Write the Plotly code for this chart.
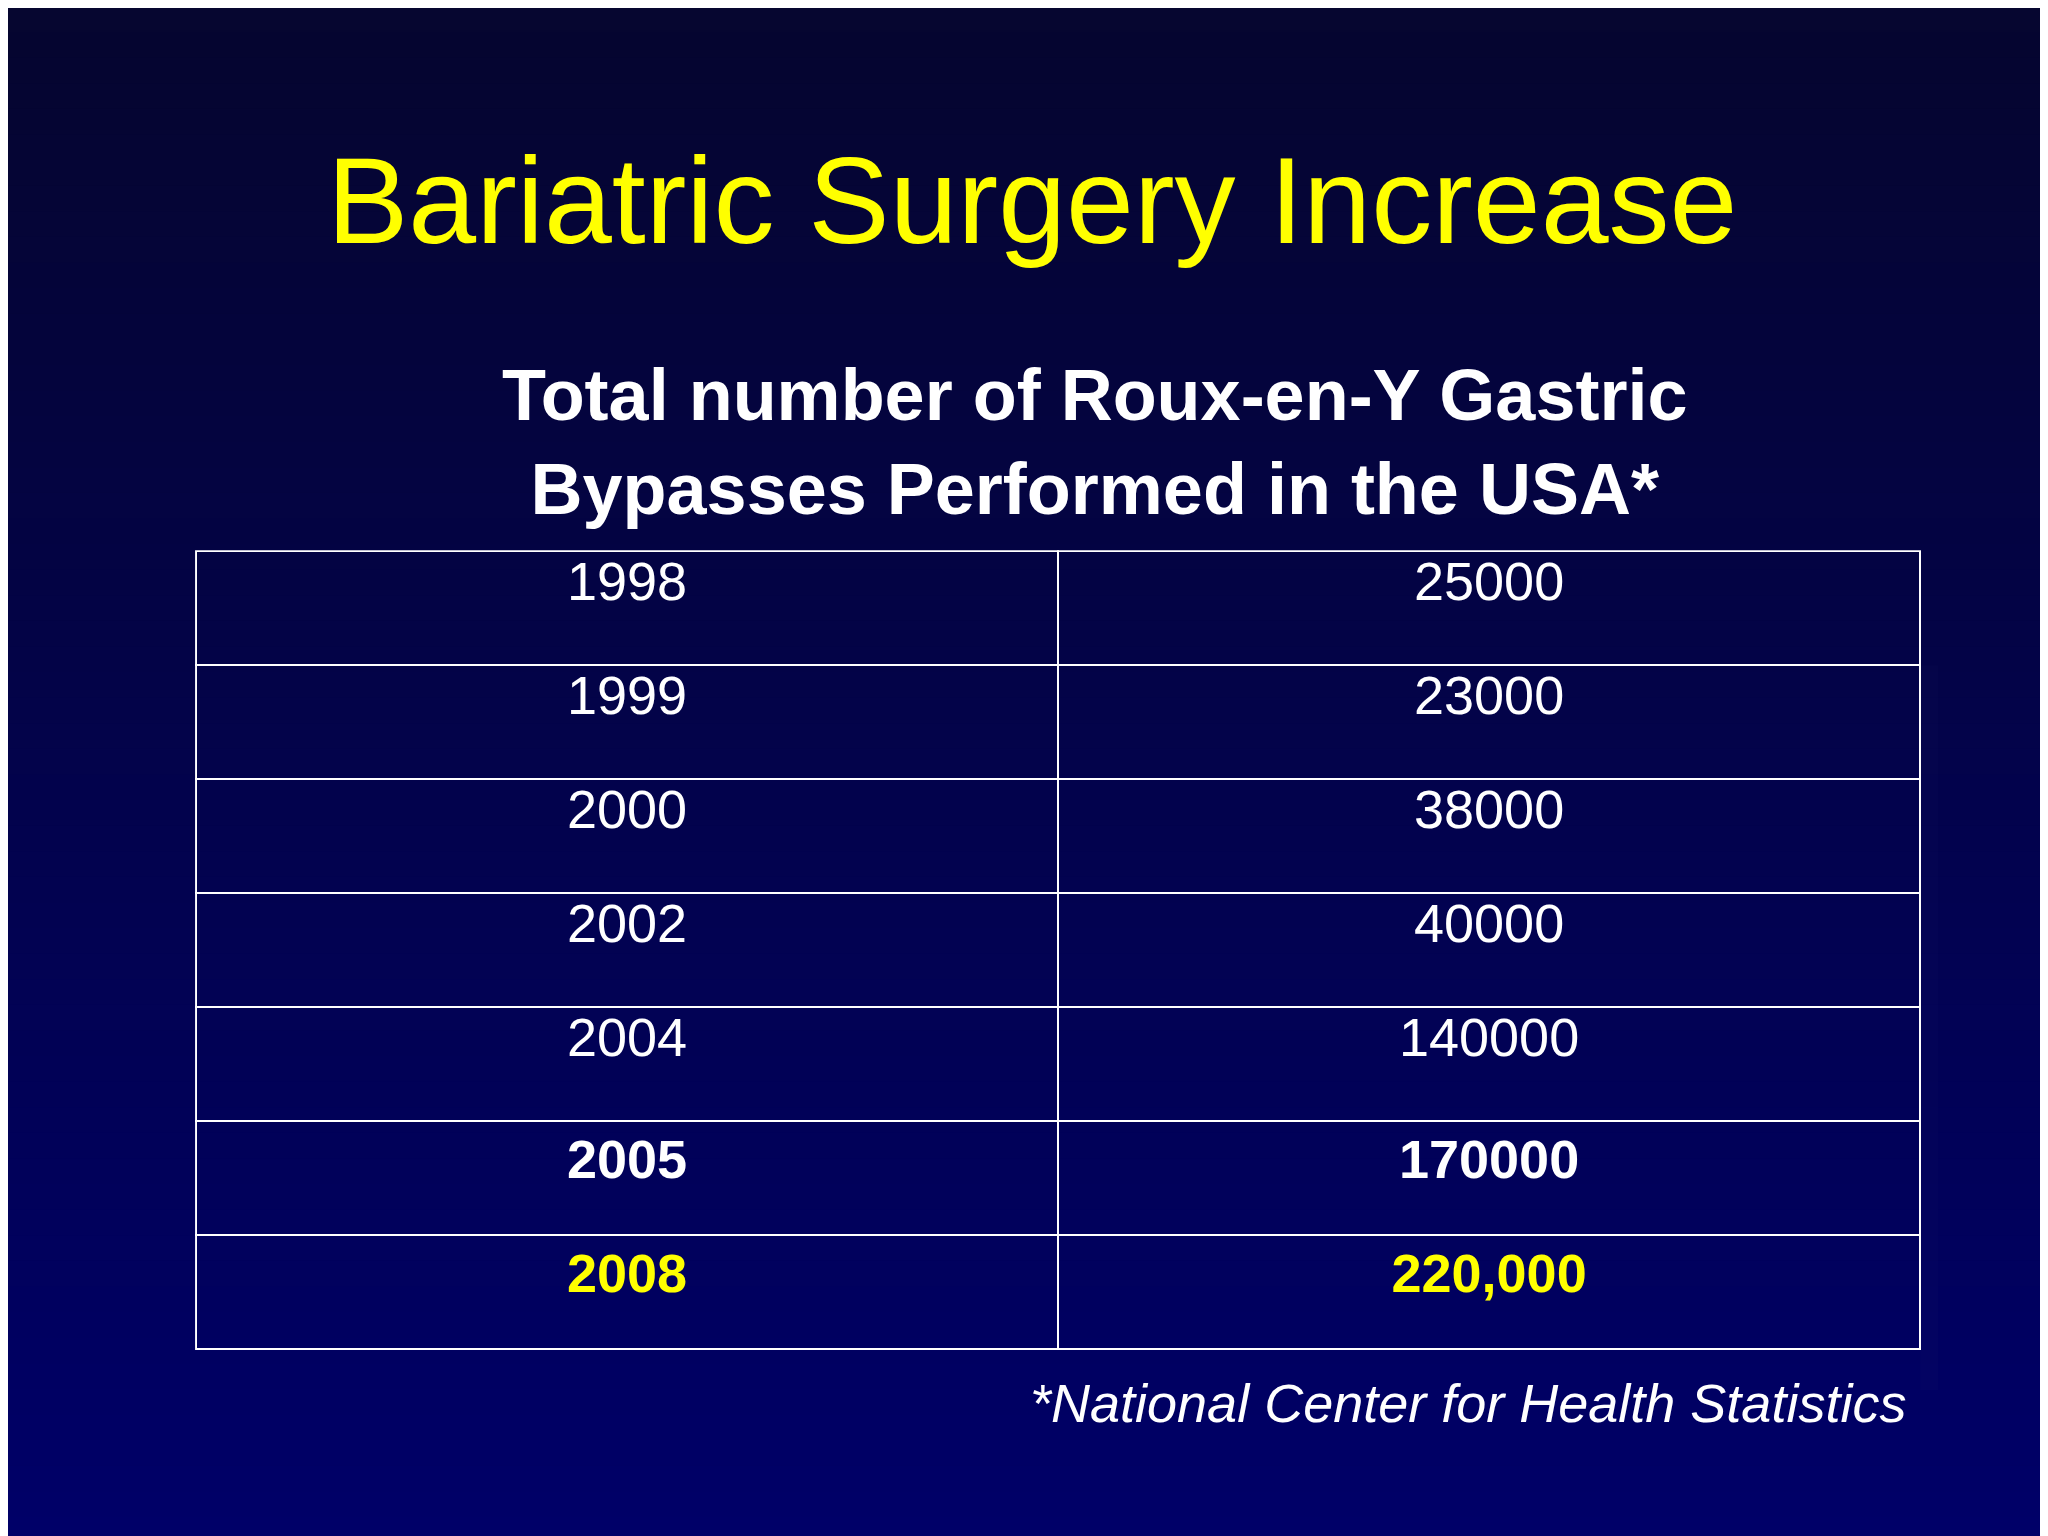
import plotly.graph_objects as go

years = ["1998", "1999", "2000", "2002", "2004", "2005", "2008"]
counts = ["25000", "23000", "38000", "40000", "140000", "170000", "220,000"]
bold_rows = [False, False, False, False, False, True, True]
row_colors = ["white", "white", "white", "white", "white", "white", "#FFFF00"]

def fmt(v, b):
    return f"<b>{v}</b>" if b else v

col1 = [fmt(y, b) for y, b in zip(years, bold_rows)]
col2 = [fmt(c, b) for c, b in zip(counts, bold_rows)]

fig = go.Figure()
fig.add_trace(go.Table(
    domain=dict(x=[144/1568, 1464/1568], y=[0.10, 1-416/1176]),
    header=dict(values=[col1[0], col2[0]], height=114, align="center",
                fill_color="rgba(0,0,0,0)", line=dict(color="white", width=2),
                font=dict(family="Liberation Sans, Arial", size=54, color=row_colors[0])),
    cells=dict(values=[col1[1:], col2[1:]], height=114, align="center",
               fill_color="rgba(0,0,0,0)", line=dict(color="white", width=2),
               font=dict(family="Liberation Sans, Arial", size=54, color=[row_colors[1:], row_colors[1:]])),
))

shapes = []
n = 60
for i in range(n):
    t = i / (n - 1)
    r = int(6 + (0 - 6) * t); g = int(6 + (0 - 6) * t); b = int(48 + (104 - 48) * t)
    shapes.append(dict(type="rect", xref="paper", yref="paper", x0=0, x1=1,
                       y0=1 - (i + 1) / n, y1=1 - i / n + 0.001,
                       fillcolor=f"rgb({r},{g},{b})", line=dict(width=0), layer="below"))

fig.update_layout(
    width=2048, height=1536, margin=dict(l=0, r=0, t=0, b=0),
    paper_bgcolor="#03034a", plot_bgcolor="rgba(0,0,0,0)", shapes=shapes,
    annotations=[
        dict(text="Bariatric Surgery Increase", x=0.5, y=1-148/1176, xref="paper", yref="paper",
             yanchor="middle", showarrow=False,
             font=dict(family="Liberation Sans, Arial", size=122, color="#FFFF00")),
        dict(text="<b>Total number of Roux-en-Y Gastric<br>Bypasses Performed in the USA*</b>",
             x=832/1568, y=1-332/1176, xref="paper", yref="paper", yanchor="middle", showarrow=False,
             font=dict(family="Liberation Sans, Arial", size=72, color="white")),
        dict(text="<i>*National Center for Health Statistics</i>", x=1455/1568, y=1-1068/1176,
             xref="paper", yref="paper", xanchor="right", yanchor="middle", showarrow=False,
             font=dict(family="Liberation Sans, Arial", size=54, color="white")),
    ],
)
fig.write_html("out.html")
